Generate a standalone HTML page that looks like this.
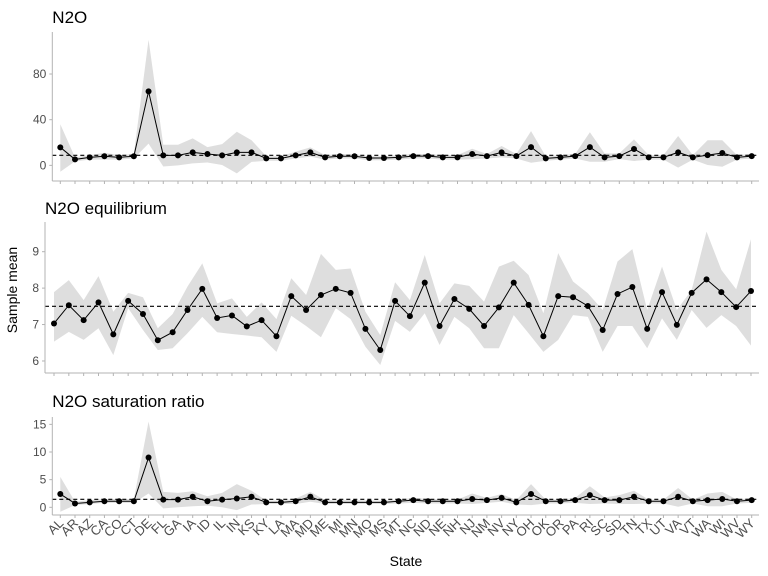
<!DOCTYPE html>
<html><head><meta charset="utf-8">
<style>
html,body{margin:0;padding:0;background:#fff;}
svg{display:block;font-family:"Liberation Sans",Arial,sans-serif;}
</style></head>
<body>
<svg id="chart" width="768" height="576" viewBox="0 0 768 576">
<text x="17" y="290" transform="rotate(-90 17 290)" text-anchor="middle" font-size="14" fill="#000">Sample mean</text>
<text x="406" y="566" text-anchor="middle" font-size="14" fill="#000">State</text>
</svg>
<script>
const states = ["AL","AR","AZ","CA","CO","CT","DE","FL","GA","IA","ID","IL","IN","KS","KY","LA","MA","MD","ME","MI","MN","MO","MS","MT","NC","ND","NE","NH","NJ","NM","NV","NY","OH","OK","OR","PA","RI","SC","SD","TN","TX","UT","VA","VT","WA","WI","WV","WY"];

const n2oMean = [15.8,5.2,7,8,7,8,64.8,8.7,8.7,11.4,9.9,8.7,11.4,11.4,6.1,6.1,8.7,11.4,7,8,8,6.4,6.4,7,8.1,8.1,7,7,9.9,8.1,11.4,8.1,16,6.1,7,8.1,16,7,8.1,14.3,7,7,11.4,7,9,10.8,7,8.1];
const n2oUpper = [36,7,9,11,9,10,110,18,18,23.6,16,18.6,29.4,22,8,8,12,15.8,9,10,10,8,8,9,10,10,9,9,14.6,10,16.9,10,30,8,9,10,29,10.5,10.5,22.8,9,9,25.7,9,22,22,9,10];
const n2oLower = [-5.6,3.5,5,5,5,6,19,-1,0,1.7,2.5,0.3,-7,3,4,4,6,7.6,5,6,6,4.5,4.5,5,6,6,5,5,5.3,6,7,6,2.3,4,5,6,3.2,3.2,5.5,3.8,5,5,-2,5,0.3,-1.2,5,6];
const n2oOverall = 8.8;
const n2oTicks = [0,40,80];

const eqMean = [7.03,7.53,7.12,7.61,6.73,7.65,7.29,6.57,6.79,7.40,7.98,7.18,7.25,6.95,7.12,6.68,7.78,7.40,7.81,7.98,7.87,6.88,6.30,7.65,7.23,8.15,6.96,7.70,7.43,6.96,7.47,8.15,7.54,6.68,7.78,7.75,7.51,6.85,7.84,8.03,6.88,7.89,6.99,7.87,8.24,7.89,7.48,7.92];
const eqUpper = [7.89,8.22,7.67,8.33,7.35,7.87,7.75,6.90,7.29,8.04,8.68,7.58,7.72,7.21,7.61,7.15,8.27,7.81,8.94,8.50,8.54,7.35,6.71,8.16,7.67,8.91,7.58,8.13,8.06,7.63,8.59,8.75,8.36,7.31,8.96,8.18,7.86,7.40,8.73,9.07,7.40,8.59,7.40,7.95,9.55,8.50,7.97,9.34];
const eqLower = [6.53,6.80,6.58,6.90,6.16,7.45,6.85,6.30,6.35,6.76,7.21,6.79,6.74,6.70,6.65,6.25,7.24,6.96,6.65,7.45,7.15,6.39,5.89,7.10,6.80,7.31,6.44,7.21,6.90,6.35,6.35,7.26,6.76,6.25,6.58,7.26,7.21,6.25,6.96,6.96,6.35,7.17,6.58,7.40,6.91,7.26,6.96,6.42];
const eqOverall = 7.5;
const eqTicks = [6,7,8,9];

const satMean = [2.4,0.7,0.9,1.1,1.1,1.1,9.0,1.4,1.4,1.9,1.1,1.4,1.6,1.9,0.9,0.9,1.1,1.9,0.9,0.9,0.9,0.9,0.9,1.1,1.3,1.1,1.1,1.1,1.5,1.3,1.7,0.9,2.4,1.1,1.1,1.3,2.2,1.3,1.3,1.9,1.1,1.1,1.9,1.1,1.3,1.5,1.1,1.3];
const satUpper = [5.5,1,1.3,1.5,1.5,1.5,15.5,2.8,2.6,2.9,2,2.6,4.2,3,1.2,1.2,1.6,2.8,1.3,1.3,1.3,1.2,1.2,1.4,1.7,1.5,1.4,1.4,2.5,1.7,2.4,1.3,4.2,1.4,1.4,1.7,3.8,1.8,2.2,3,1.4,1.4,3.5,1.4,2.5,2.8,1.4,1.7];
const satLower = [-0.8,0.4,0.6,0.8,0.8,0.8,2.5,-0.2,0,0.2,0.3,0,-0.5,0.5,0.6,0.6,0.6,1,0.6,0.6,0.6,0.6,0.6,0.7,0.8,0.7,0.7,0.7,0.6,0.8,1,0.5,0.4,0.7,0.7,0.8,0.6,0.7,0.6,0.6,0.7,0.7,0.1,0.7,0.2,0.2,0.7,0.8];
const satOverall = 1.45;
const satTicks = [0,5,10,15];

const NS = "http://www.w3.org/2000/svg";
const svg = document.getElementById("chart");
function mk(tag, attrs, parent){
  const e = document.createElementNS(NS, tag);
  for (const k in attrs) e.setAttribute(k, attrs[k]);
  (parent||svg).appendChild(e);
  return e;
}

function panel(cfg){
  const g = mk("g", {});
  
  
  const x = i => cfg.x0 + i * (cfg.x1 - cfg.x0) / (states.length - 1);
  const y = v => cfg.top + (cfg.vmax - v) / (cfg.vmax - cfg.vmin) * (cfg.bottom - cfg.top);
  const t = mk("text", {x: cfg.L, y: cfg.titleY, "font-size": 17, fill: "#000"}, g);
  t.textContent = cfg.title;
  
  
  let d = "";
  cfg.upper.forEach((v,i)=>{ d += (i?"L":"M") + x(i).toFixed(2) + "," + y(v).toFixed(2); });
  for (let i = cfg.lower.length-1; i >= 0; i--) d += "L" + x(i).toFixed(2) + "," + y(cfg.lower[i]).toFixed(2);
  const band = mk("path", {d: d + "Z", fill: "#dedede", stroke: "none"}, g);
  
  
  const ml = mk("line", {x1: cfg.L, x2: cfg.R, y1: y(cfg.overall), y2: y(cfg.overall), stroke: "#000", "stroke-width": 1.1, "stroke-dasharray": "4,3"}, g);
  
  
  const pts = cfg.mean.map((v,i)=> x(i).toFixed(2) + "," + y(v).toFixed(2)).join(" ");
  const pl = mk("polyline", {points: pts, fill: "none", stroke: "#000", "stroke-width": 1}, g);
  
  
  cfg.mean.forEach((v,i)=>{
    const c = mk("circle", {cx: x(i), cy: y(v), r: 3, fill: "#000"}, g);
    
    
  });
  const ya = mk("line", {x1: cfg.L, x2: cfg.L, y1: cfg.top, y2: cfg.bottom, stroke: "#b3b3b3", "stroke-width": 1}, g);
  
  
  const xa = mk("line", {x1: cfg.L, x2: cfg.R, y1: cfg.bottom, y2: cfg.bottom, stroke: "#b3b3b3", "stroke-width": 1}, g);
  
  
  cfg.ticks.forEach(tv=>{
    mk("line", {x1: cfg.L-3, x2: cfg.L, y1: y(tv), y2: y(tv), stroke: "#b3b3b3"}, g);
    const tl = mk("text", {x: cfg.L-6, y: y(tv)+4, "text-anchor": "end", "font-size": 12, fill: "#4d4d4d"}, g);
    tl.textContent = tv;
    
    
  });
  states.forEach((s,i)=>{
    mk("line", {x1: x(i), x2: x(i), y1: cfg.bottom, y2: cfg.bottom+3, stroke: "#b3b3b3"}, g);
    if (cfg.labels) {
      const lx = x(i)+4, ly = cfg.bottom+9;
      const tl = mk("text", {x: lx, y: ly, "text-anchor": "end", "font-size": 13, fill: "#4d4d4d", transform: "rotate(-45 " + lx + " " + ly + ")"}, g);
      tl.textContent = s;
      
      
    }
  });
}

panel({name: "n2o-panel", title: "N2O", titleY: 23, L: 52.3, R: 759, x0: 60.3, x1: 751.7, top: 32, bottom: 181, vmin: -13.7, vmax: 116.8,
  mean: n2oMean, upper: n2oUpper, lower: n2oLower, overall: n2oOverall, ticks: n2oTicks, labels: false});
panel({name: "n2o-equilibrium-panel", title: "N2O equilibrium", titleY: 214, L: 45, R: 759, x0: 54, x1: 751, top: 222, bottom: 373, vmin: 5.67, vmax: 9.815,
  mean: eqMean, upper: eqUpper, lower: eqLower, overall: eqOverall, ticks: eqTicks, labels: false});
panel({name: "n2o-saturation-ratio-panel", title: "N2O saturation ratio", titleY: 407, L: 52.3, R: 759, x0: 60.3, x1: 751.7, top: 417, bottom: 515, vmin: -1.39, vmax: 16.33,
  mean: satMean, upper: satUpper, lower: satLower, overall: satOverall, ticks: satTicks, labels: true});
</script>
</body></html>
